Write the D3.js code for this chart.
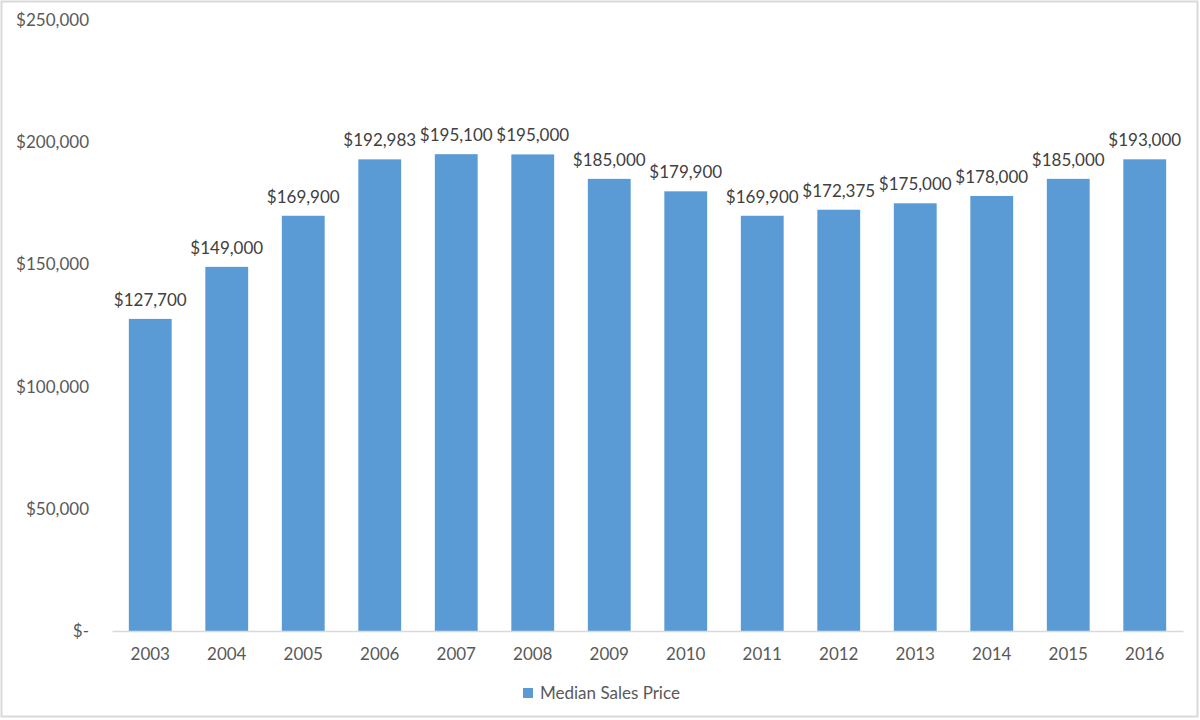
<!DOCTYPE html>
<html>
<head>
<meta charset="utf-8">
<script src="https://cdn.jsdelivr.net/npm/d3@7"></script>
<style>
  body { margin: 0; background: #fff; }
  svg { display: block; font-family: Lato, "Open Sans", sans-serif; }
</style>
</head>
<body>
<svg id="chart" width="1200" height="720"></svg>
<script>
// data
const years = ["2003", "2004", "2005", "2006", "2007", "2008", "2009", "2010", "2011", "2012", "2013", "2014", "2015", "2016"];
const medianPrice = [127700, 149000, 169900, 192983, 195100, 195000, 185000, 179900, 169900, 172375, 175000, 178000, 185000, 193000];
const yTicks = [0, 50000, 100000, 150000, 200000, 250000];
const seriesName = "Median Sales Price";

const svg = d3.select("#chart");
const barColor = "#5b9bd5";

// outer frame
svg.append("rect")
  .attr("x", 1.5).attr("y", 1.5)
  .attr("width", 1196).attr("height", 715)
  .attr("fill", "#fff")
  .attr("stroke", "#d9d9d9")
  .attr("stroke-width", 2);

const x = d3.scaleBand()
  .domain(years)
  .range([112, 1183])
  .paddingInner(0.44)
  .paddingOuter(0.22);

const y = d3.scaleLinear()
  .domain([0, 250000])
  .range([631, 20]);

const money = d3.format(",");
const fmtTick = (d) => d === 0 ? "$-" : "$" + money(d);

// y tick labels (no gridlines in the reference)
svg.append("g")
  .selectAll("text")
  .data(yTicks)
  .join("text")
  .attr("x", 89)
  .attr("y", (d) => y(d))
  .attr("dy", "0.35em")
  .attr("text-anchor", "end")
  .attr("fill", "#595959")
  .style("font-size", "17px")
  .text(fmtTick);

// bars
svg.append("g")
  .selectAll("rect")
  .data(medianPrice)
  .join("rect")
  .attr("x", (d, i) => x(years[i]))
  .attr("y", (d) => y(d))
  .attr("width", x.bandwidth())
  .attr("height", (d) => y(0) - y(d))
  .attr("fill", barColor);

// data labels
svg.append("g")
  .selectAll("text")
  .data(medianPrice)
  .join("text")
  .attr("x", (d, i) => x(years[i]) + x.bandwidth() / 2)
  .attr("y", (d) => y(d) - 13)
  .attr("text-anchor", "middle")
  .attr("fill", "#404040")
  .style("font-size", "17px")
  .text((d) => "$" + money(d));

// x axis
const xAxis = svg.append("g")
  .attr("transform", `translate(0,${y(0)})`)
  .call(d3.axisBottom(x).tickSize(0).tickPadding(17));
xAxis.select(".domain").attr("stroke", "#d9d9d9").attr("stroke-width", 1.5);
xAxis.selectAll("text")
  .attr("fill", "#595959")
  .style("font-size", "17px")
  .style("font-family", "Lato, 'Open Sans', sans-serif");

// legend
const legend = svg.append("g").attr("transform", "translate(523,688)");
legend.append("rect")
  .attr("width", 10).attr("height", 10)
  .attr("fill", barColor);
legend.append("text")
  .attr("x", 17)
  .attr("y", 5)
  .attr("dy", "0.35em")
  .attr("fill", "#595959")
  .style("font-size", "17px")
  .text(seriesName);
</script>
</body>
</html>
